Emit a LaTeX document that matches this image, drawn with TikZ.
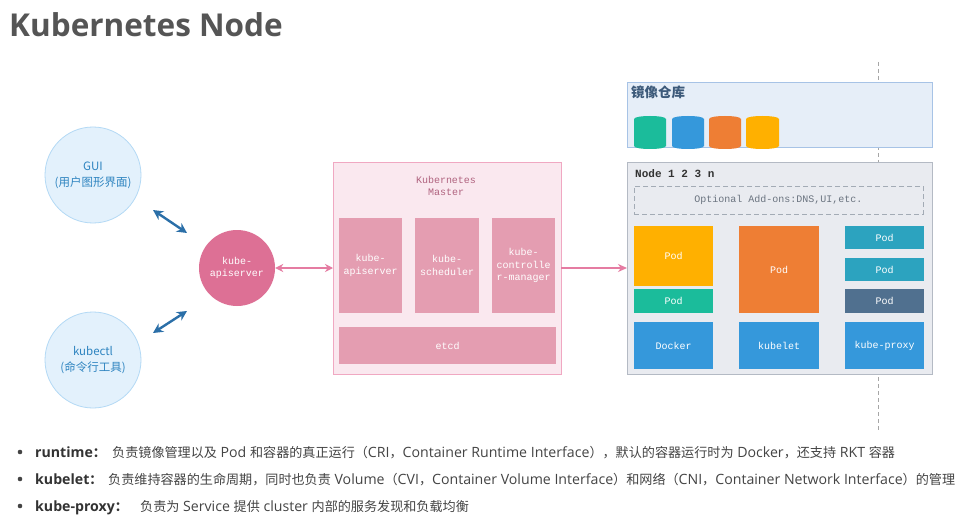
\documentclass[tikz,border=0pt]{standalone}
\usepackage{fontspec}
\setmainfont{Open Sans}
\setmonofont{Liberation Mono}
\newfontfamily\cjk{Noto Sans CJK SC}
\usetikzlibrary{arrows.meta,calc}
\definecolor{titlegray}{HTML}{555555}
\definecolor{txtgray}{HTML}{444444}
\definecolor{cfill}{HTML}{E3F1FC}
\definecolor{cdraw}{HTML}{B3D9F5}
\definecolor{ctext}{HTML}{2E84C0}
\definecolor{barrow}{HTML}{2B6FA8}
\definecolor{apicol}{HTML}{DD7095}
\definecolor{parrow}{HTML}{E57CA2}
\definecolor{mfill}{HTML}{FAE8EF}
\definecolor{mdraw}{HTML}{F0A8C2}
\definecolor{mtext}{HTML}{B0637F}
\definecolor{minner}{HTML}{E49DB1}
\definecolor{rfill}{HTML}{E6EEF8}
\definecolor{rdraw}{HTML}{A7C3E6}
\definecolor{rtext}{HTML}{3D5A7A}
\definecolor{nfill}{HTML}{E9EBF0}
\definecolor{ndraw}{HTML}{B4BAC4}
\definecolor{ddraw}{HTML}{A3ABB5}
\definecolor{dtext}{HTML}{6B7480}
\definecolor{cyellow}{HTML}{FFB000}
\definecolor{cteal}{HTML}{1BBC9B}
\definecolor{corange}{HTML}{EE7E34}
\definecolor{cblue}{HTML}{3598DB}
\definecolor{ccyan}{HTML}{2CA3BF}
\definecolor{cdark}{HTML}{50708F}
\newcommand\zh[1]{{\cjk\fontsize{13.1}{16}\selectfont #1}}
\begin{document}
\begin{tikzpicture}[x=1pt,y=-1pt,
  box/.style={anchor=north west, inner sep=0pt, outer sep=0pt, text=white,
    font=\ttfamily\fontsize{10}{12.5}\selectfont, align=center},
  client/.style={circle, fill=cfill, draw=cdraw, line width=0.8pt, minimum size=96pt,
    inner sep=0pt, text=ctext, align=center, font=\cjk\fontsize{11.5}{16}\selectfont},
  barr/.style={draw=barrow, line width=2.4pt, {Stealth[length=10pt,width=10pt]}-{Stealth[length=10pt,width=10pt]}},
  parr/.style={draw=parrow, line width=1.8pt},
  bullet/.style={anchor=base west, inner sep=0pt, text=txtgray, font=\fontsize{14.15}{16}\selectfont}
]
\useasboundingbox (0,0) rectangle (977,516);
\fill[white] (0,0) rectangle (977,516);

% title
\node[anchor=base west, inner sep=0pt, text=titlegray, font=\bfseries\fontsize{31.5}{38}\selectfont] (title) at (9,37) {Kubernetes Node};

% dashed vertical line
\coordinate (vtop) at (878,62);
\coordinate (vbot) at (878,430);
\draw[gray!70, dash pattern=on 4pt off 3pt, line width=0.8pt] (vtop) -- (vbot);

% clients
\node[client] (gui) at (93,175) {GUI\\(用户图形界面)};
\node[client] (kubectl) at (93,360) {kubectl\\(命令行工具)};
\node[circle, fill=apicol, minimum size=76pt, inner sep=0pt, text=white, align=center,
  font=\ttfamily\fontsize{10}{12.5}\selectfont] (api) at (237,268) {kube-\\apiserver};

\coordinate (g1) at (153,210);
\coordinate (g2) at (187,233);
\coordinate (k1) at (153,333);
\coordinate (k2) at (187,311);
\draw[barr] (g1) -- (g2);
\draw[barr] (k1) -- (k2);

% master
\node[box, fill=mfill, draw=mdraw, line width=0.8pt, minimum width=228pt, minimum height=212pt] (master) at (333,162) {};
\node[inner sep=0pt, text=mtext, align=center, font=\ttfamily\fontsize{10}{12.5}\selectfont] (mtitle) at (446,186) {Kubernetes\\Master};
\node[box, fill=minner, minimum width=63pt, minimum height=95pt] (mapi) at (339,218) {kube-\\apiserver};
\node[box, fill=minner, minimum width=64pt, minimum height=95pt] (msched) at (415,218) {kube-\\scheduler};
\node[box, fill=minner, minimum width=63pt, minimum height=95pt] (mctrl) at (492,218) {kube-\\controlle\\r-manager};
\node[box, fill=minner, minimum width=217pt, minimum height=37pt] (etcd) at (339,327) {etcd};

\draw[parr, {Stealth[length=8pt,width=8pt]}-{Stealth[length=8pt,width=8pt]}] (api.east) -- (api.east -| master.west);

% registry
\node[box, fill=rfill, draw=rdraw, line width=0.8pt, minimum width=305pt, minimum height=65pt] (reg) at (627,82) {};
\node[anchor=base west, inner sep=0pt, text=rtext, font=\cjk\bfseries\fontsize{13.5}{15}\selectfont] (regt) at (631,98) {镜像仓库};
\foreach \x/\w/\c in {634/32/cteal, 672/32/cblue, 709/32/corange, 746/33/cyellow}{
  \fill[\c] (\x,119) .. controls (\x,115) and (\x+\w,115) .. (\x+\w,119) -- (\x+\w,146)
    .. controls (\x+\w,150) and (\x,150) .. (\x,146) -- cycle;
}

% node
\node[box, fill=nfill, draw=ndraw, line width=0.8pt, minimum width=305pt, minimum height=212pt] (node) at (627,162) {};
\node[anchor=base west, inner sep=0pt, text=black!80, font=\ttfamily\bfseries\fontsize{11}{13}\selectfont] (nodet) at (635,177) {Node 1 2 3 n};
\node[box, draw=ddraw, dash pattern=on 5pt off 3pt, line width=0.8pt, minimum width=289pt, minimum height=28pt, text=dtext] (addons) at (634,186) {Optional Add-ons:DNS,UI,etc.};

\node[box, fill=cyellow, minimum width=79pt, minimum height=60pt] (pod1) at (634,226) {Pod};
\node[box, fill=cteal, minimum width=79pt, minimum height=24pt] (pod2) at (634,289) {Pod};
\node[box, fill=cblue, minimum width=79pt, minimum height=47pt] (docker) at (634,322) {Docker};
\node[box, fill=corange, minimum width=80pt, minimum height=87pt] (pod3) at (739,226) {Pod};
\node[box, fill=cblue, minimum width=80pt, minimum height=47pt] (kubelet) at (739,322) {kubelet};
\node[box, fill=ccyan, minimum width=79pt, minimum height=23pt] (pod4) at (845,226) {Pod};
\node[box, fill=ccyan, minimum width=79pt, minimum height=23pt] (pod5) at (845,258) {Pod};
\node[box, fill=cdark, minimum width=79pt, minimum height=24pt] (pod6) at (845,289) {Pod};
\node[box, fill=cblue, minimum width=79pt, minimum height=47pt] (proxy) at (845,322) {kube-proxy};

\draw[parr, -{Stealth[length=9pt,width=8pt]}] (master.east |- api.east) -- (node.west |- api.east);

% bullets
\foreach \y in {457,484,511}{
  \fill[txtgray] (20,\y-5) circle[radius=2.3pt];
}
\node[bullet, text=black!80] (l1) at (35,457) {\textbf{runtime\zh{：}}};
\node[bullet] (b1) at (112,457) {\zh{负责镜像管理以及} Pod \zh{和容器的真正运行（}CRI\zh{，}Container Runtime Interface\zh{），默认的容器运行时为} Docker\zh{，还支持} RKT \zh{容器}};
\node[bullet, text=black!80] (l2) at (35,484) {\textbf{kubelet\zh{：}}};
\node[bullet] (b2) at (108,484) {\zh{负责维持容器的生命周期，同时也负责} Volume\zh{（}CVI\zh{，}Container Volume Interface\zh{）和网络（}CNI\zh{，}Container Network Interface\zh{）的管理}};
\node[bullet, text=black!80] (l3) at (35,511) {\textbf{kube-proxy\zh{：}}};
\node[bullet] (b3) at (140,511) {\zh{负责为} Service \zh{提供} cluster \zh{内部的服务发现和负载均衡}};
\end{tikzpicture}
\end{document}
